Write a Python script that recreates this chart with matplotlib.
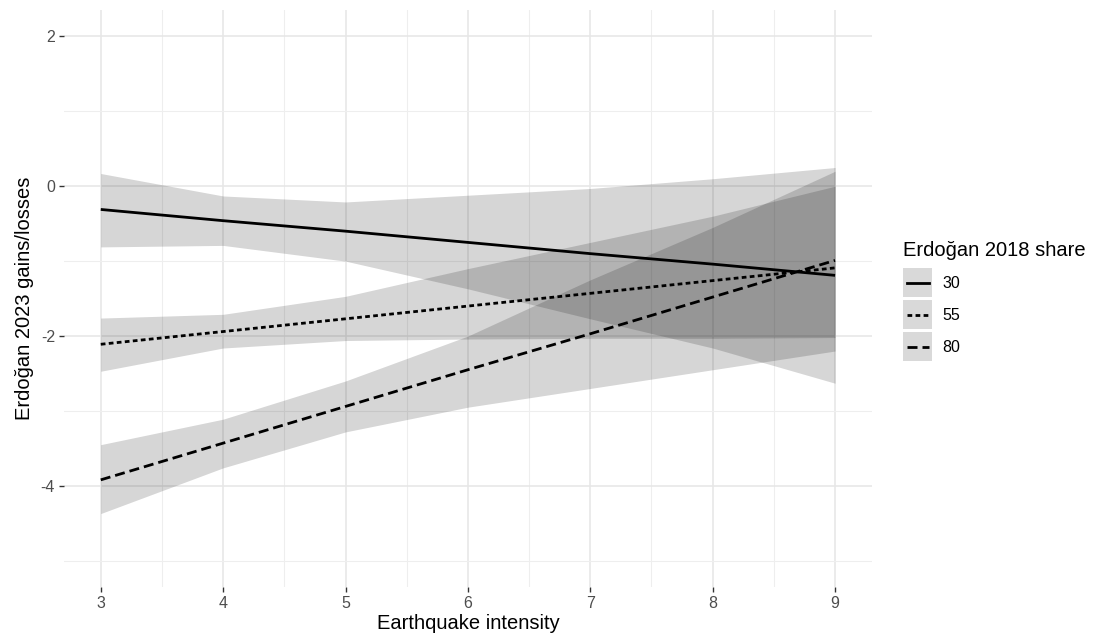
"""Predicted Erdoğan 2023 gains/losses by earthquake intensity, for three 2018 vote shares."""

import matplotlib
matplotlib.use("Agg")
import matplotlib.pyplot as plt
from matplotlib.lines import Line2D
from matplotlib.patches import Rectangle
from matplotlib.legend_handler import HandlerBase

plt.rcParams["font.family"] = ["Liberation Sans", "DejaVu Sans"]
plt.rcParams["axes.unicode_minus"] = False

# --- data ---
intensity = [3, 4, 5, 6, 7, 8, 9]
share_labels = ["30", "55", "80"]

fit_30 = [-0.31, -0.46, -0.60, -0.75, -0.90, -1.04, -1.19]
upper_30 = [0.17, -0.13, -0.21, -0.12, -0.03, 0.10, 0.25]
lower_30 = [-0.81, -0.79, -1.00, -1.37, -1.77, -2.16, -2.63]

fit_55 = [-2.11, -1.94, -1.77, -1.60, -1.43, -1.26, -1.09]
upper_55 = [-1.76, -1.71, -1.47, -1.10, -0.75, -0.40, 0.00]
lower_55 = [-2.47, -2.16, -2.06, -2.04, -2.03, -2.03, -2.02]

fit_80 = [-3.92, -3.43, -2.94, -2.45, -1.97, -1.48, -0.99]
upper_80 = [-3.45, -3.11, -2.60, -2.00, -1.25, -0.55, 0.20]
lower_80 = [-4.37, -3.76, -3.28, -2.95, -2.70, -2.45, -2.20]

x_ticks = [3, 4, 5, 6, 7, 8, 9]
y_ticks = [-4, -2, 0, 2]

fits = [fit_30, fit_55, fit_80]
uppers = [upper_30, upper_55, upper_80]
lowers = [lower_30, lower_55, lower_80]

LINESTYLES = ["-", (0, (1.7, 1.2)), (0, (3.6, 1.8))]
RIBBON_ALPHA = 0.16
LW = 2.0
FS_TICK = 11.5
FS_TITLE = 14.5


class KeyHandler(HandlerBase):
    """ggplot-style legend key: grey square with the line drawn across."""

    def __init__(self, linestyle):
        super().__init__()
        self.linestyle = linestyle

    def create_artists(self, legend, orig, xdescent, ydescent, width, height, fontsize, trans):
        side = width
        yc = -ydescent + height / 2
        box = Rectangle((-xdescent, yc - side / 2), width, side, facecolor="#d9d9d9",
                        edgecolor="none", transform=trans)
        ln = Line2D([-xdescent + width * 0.12, -xdescent + width * 0.88], [yc, yc],
                    color="black", lw=LW, linestyle=self.linestyle,
                    dash_capstyle="butt", transform=trans)
        return [box, ln]


fig = plt.figure(figsize=(11.08, 6.38), dpi=100)
ax = fig.add_axes([0.0578, 0.080, 0.729, 0.904])

for lo, hi in zip(lowers, uppers):
    ax.fill_between(intensity, lo, hi, color="black", alpha=RIBBON_ALPHA,
                    linewidth=0, zorder=2)

handles = []
for fit, style, lab in zip(fits, LINESTYLES, share_labels):
    (h,) = ax.plot(intensity, fit, color="black", lw=LW, zorder=3, linestyle=style,
                   solid_capstyle="butt", dash_capstyle="butt", label=lab)
    handles.append(h)

ax.set_xlim(2.7, 9.3)
ax.set_ylim(-5.35, 2.35)
ax.set_xticks(x_ticks)
ax.set_yticks(y_ticks)
ax.set_xticks([3.5, 4.5, 5.5, 6.5, 7.5, 8.5], minor=True)
ax.set_yticks([-5, -3, -1, 1], minor=True)
ax.grid(which="major", color="#e6e6e6", linewidth=1.1, zorder=0)
ax.grid(which="minor", color="#eeeeee", linewidth=0.8, zorder=0)
ax.set_axisbelow(True)
for s in ax.spines.values():
    s.set_visible(False)
ax.tick_params(which="major", length=3.5, width=1.0, color="#333333",
               labelsize=FS_TICK, labelcolor="#4d4d4d", pad=3)
ax.tick_params(which="minor", length=0)

ax.set_xlabel("Earthquake intensity", fontsize=FS_TITLE, color="black", labelpad=2)
ax.set_ylabel("Erdoğan 2023 gains/losses", fontsize=FS_TITLE, color="black", labelpad=5)

leg = ax.legend(handles=handles, labels=share_labels, title="Erdoğan 2018 share",
                loc="center left", bbox_to_anchor=(1.021, 0.50), frameon=False,
                fontsize=FS_TICK, title_fontsize=FS_TITLE, handlelength=1.82,
                handleheight=1.4, handletextpad=0.63, labelspacing=0.85,
                handler_map={h: KeyHandler(s) for h, s in zip(handles, LINESTYLES)})
leg._legend_box.align = "left"

fig.savefig("out.png", dpi=100)
plt.close(fig)
